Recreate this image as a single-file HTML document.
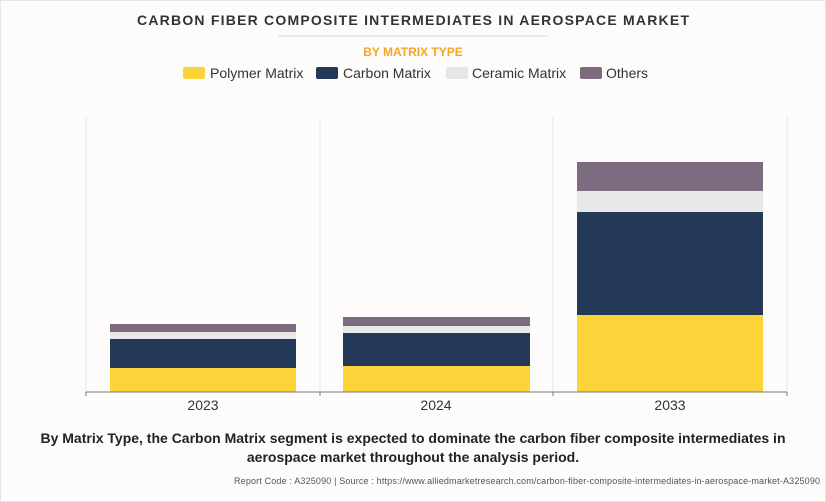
<!DOCTYPE html><html><head><style>
body{margin:0;width:826px;height:502px;background:#fdfcfb;font-family:"Liberation Sans",sans-serif;overflow:hidden}
</style></head><body>
<svg width="826" height="502" xmlns="http://www.w3.org/2000/svg" style="position:absolute;left:0;top:0">
<rect x="0.5" y="0.5" width="825" height="501" fill="#fdfcfb" stroke="#e6e6e6"/>
<text x="413" y="25" text-anchor="middle" font-size="14" font-weight="bold" fill="#333" textLength="552" lengthAdjust="spacing">CARBON FIBER COMPOSITE INTERMEDIATES IN AEROSPACE MARKET</text>
<line x1="278" y1="36" x2="548" y2="36" stroke="#ddd"/>
<text x="413" y="56" text-anchor="middle" font-size="12" font-weight="bold" fill="#f5a623">BY MATRIX TYPE</text>
<g font-size="14" fill="#333">
<rect x="183" y="67" width="22" height="12" rx="2" fill="#fdd33a"/><text x="210" y="78">Polymer Matrix</text>
<rect x="316" y="67" width="22" height="12" rx="2" fill="#243858"/><text x="343" y="78">Carbon Matrix</text>
<rect x="446" y="67" width="22" height="12" rx="2" fill="#e6e6e6"/><text x="472" y="78">Ceramic Matrix</text>
<rect x="580" y="67" width="22" height="12" rx="2" fill="#7d6b80"/><text x="606" y="78">Others</text>
</g>
<g stroke="#e6e6e6"><line x1="86" y1="117" x2="86" y2="392"/><line x1="320" y1="117" x2="320" y2="392"/><line x1="553" y1="117" x2="553" y2="392"/><line x1="787" y1="117" x2="787" y2="392"/></g>
<g>
<rect x="110" y="324" width="186" height="8" fill="#7d6b80"/><rect x="110" y="332" width="186" height="7" fill="#e8e8e8"/><rect x="110" y="339" width="186" height="29" fill="#243858"/><rect x="110" y="368" width="186" height="24" fill="#fdd33a"/>
<rect x="343" y="317" width="187" height="9" fill="#7d6b80"/><rect x="343" y="326" width="187" height="7" fill="#e8e8e8"/><rect x="343" y="333" width="187" height="33" fill="#243858"/><rect x="343" y="366" width="187" height="26" fill="#fdd33a"/>
<rect x="577" y="162" width="186" height="29" fill="#7d6b80"/><rect x="577" y="191" width="186" height="21" fill="#e8e8e8"/><rect x="577" y="212" width="186" height="103" fill="#243858"/><rect x="577" y="315" width="186" height="77" fill="#fdd33a"/>
</g>
<g stroke="#777"><line x1="86" y1="392" x2="787" y2="392"/><line x1="86" y1="392" x2="86" y2="396"/><line x1="320" y1="392" x2="320" y2="396"/><line x1="553" y1="392" x2="553" y2="396"/><line x1="787" y1="392" x2="787" y2="396"/></g>
<g font-size="14" fill="#333" text-anchor="middle"><text x="203" y="410">2023</text><text x="436" y="410">2024</text><text x="670" y="410">2033</text></g>
<g font-size="14" font-weight="bold" fill="#222" text-anchor="middle"><text x="413" y="443">By Matrix Type, the Carbon Matrix segment is expected to dominate the carbon fiber composite intermediates in</text><text x="413" y="462">aerospace market throughout the analysis period.</text></g>
<text x="820" y="484" text-anchor="end" font-size="9" fill="#555" textLength="586" lengthAdjust="spacing">Report Code : A325090  |  Source : https://www.alliedmarketresearch.com/carbon-fiber-composite-intermediates-in-aerospace-market-A325090</text>
</svg>
</body></html>
